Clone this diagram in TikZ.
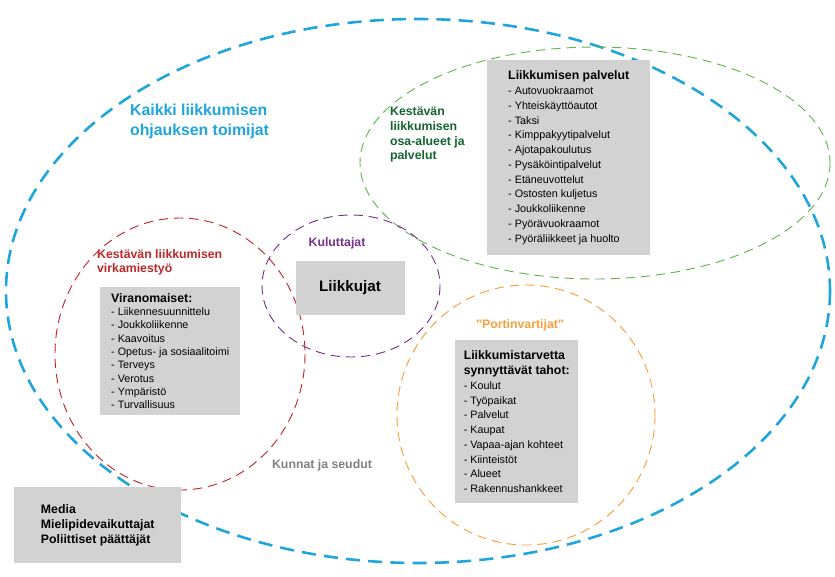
\documentclass[tikz,border=0pt]{standalone}
\usepackage{fontspec}
\setmainfont{Liberation Sans}
\usetikzlibrary{positioning}
\definecolor{skyblue}{RGB}{30,165,220}
\definecolor{leafgreen}{RGB}{100,180,80}
\definecolor{darkgreen}{RGB}{20,100,50}
\definecolor{brickred}{RGB}{190,40,40}
\definecolor{plum}{RGB}{120,50,140}
\definecolor{amber}{RGB}{245,160,60}
\definecolor{boxgray}{RGB}{210,210,210}
\tikzset{
    ring/.style={dashed, dash pattern=on 8pt off 5pt, thick},
    listbox/.style={fill=boxgray, anchor=north west, align=left, font=\fontsize{9.2}{12.6}\selectfont, inner sep=5pt},
    heading/.style={font=\bfseries\fontsize{10.5}{12.6}\selectfont, align=left}
}
\begin{document}
\begin{tikzpicture}[x=0.03cm, y=-0.03cm]
    \useasboundingbox (0,0) rectangle (835,576);

    \draw[ring, skyblue, line width=2.2pt, dash pattern=on 12pt off 7pt] (418,291) ellipse (412 and 272);
    \draw[ring, leafgreen] (595,163) ellipse (235 and 116);
    \draw[ring, brickred] (180,354) ellipse (125 and 136);
    \draw[ring, plum] (351,286) ellipse (89 and 71);
    \draw[ring, amber] (526,415) ellipse (129 and 130);

    \node (TITLE) [anchor=north west, align=left, text=skyblue, font=\bfseries\fontsize{13.5}{17}\selectfont] at (126,100) {Kaikki liikkumisen\\ohjauksen toimijat};

    \node (PALVELUT) [listbox, minimum width=163*0.03cm, minimum height=195*0.03cm] at (487,60) {\textbf{\fontsize{10.5}{12}\selectfont Liikkumisen palvelut}\\- Autovuokraamot\\- Yhteiskäyttöautot\\- Taksi\\- Kimppakyytipalvelut\\- Ajotapakoulutus\\- Pysäköintipalvelut\\- Etäneuvottelut\\- Ostosten kuljetus\\- Joukkoliikenne\\- Pyörävuokraamot\\- Pyöräliikkeet ja huolto};
    \node (OSA) [heading, text=darkgreen, anchor=north west] at (386,103) {Kestävän\\liikkumisen\\osa-alueet ja\\palvelut};

    \node (VIRKA) [heading, text=brickred, anchor=north west] at (93,245) {Kestävän liikkumisen\\virkamiestyö};
    \node (VIRANOM) [listbox, minimum width=140*0.03cm, minimum height=120*0.03cm, font=\fontsize{9.2}{11.4}\selectfont] at (100,287) {\textbf{\fontsize{10.5}{12}\selectfont Viranomaiset:}\\- Liikennesuunnittelu\\- Joukkoliikenne\\- Kaavoitus\\- Opetus- ja sosiaalitoimi\\- Terveys\\- Verotus\\- Ympäristö\\- Turvallisuus};

    \node (KULUT) [heading, text=plum] at (337,243) {Kuluttajat};
    \node (LIIKKUJAT) [fill=boxgray, minimum width=109*0.03cm, minimum height=54*0.03cm, font=\bfseries\fontsize{13}{15}\selectfont] at (350,288) {Liikkujat};

    \node (PORTTI) [heading, text=amber] at (520,325) {”Portinvartijat”};
    \node (TAHOT) [listbox, minimum width=123*0.03cm, minimum height=163*0.03cm] at (455,340) {\textbf{\fontsize{10.5}{12}\selectfont Liikkumistarvetta}\\\textbf{\fontsize{10.5}{12}\selectfont synnyttävät tahot:}\\- Koulut\\- Työpaikat\\- Palvelut\\- Kaupat\\- Vapaa-ajan kohteet\\- Kiinteistöt\\- Alueet\\- Rakennushankkeet};

    \node (KUNNAT) [heading, text=gray] at (322,465) {Kunnat ja seudut};

    \node (MEDIA) [listbox, minimum width=167*0.03cm, minimum height=76*0.03cm, font=\bfseries\fontsize{10.5}{13}\selectfont, inner sep=8pt] at (14,487) {Media\\Mielipidevaikuttajat\\Poliittiset päättäjät};
\end{tikzpicture}
\end{document}
